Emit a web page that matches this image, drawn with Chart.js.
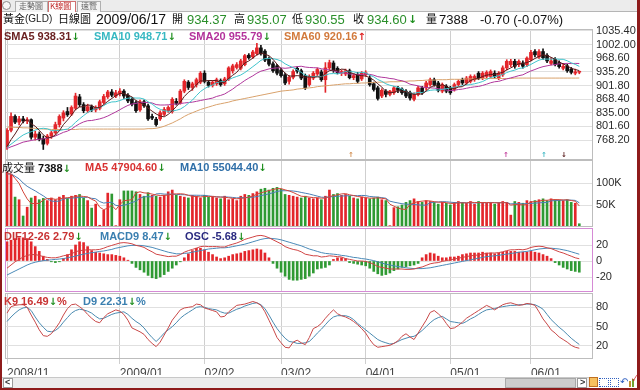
<!DOCTYPE html>
<html><head><meta charset="utf-8">
<script src="https://cdn.jsdelivr.net/npm/chart.js@4.4.1/dist/chart.umd.min.js"></script>
<style>
html,body{margin:0;padding:0;background:#fff;}
#wrap{position:relative;width:640px;height:390px;overflow:hidden;background:#fff;font-family:"Liberation Sans","Noto Sans CJK TC",Arial,sans-serif;}
canvas{position:absolute;left:0;top:0;}
.t{position:absolute;white-space:nowrap;line-height:1;z-index:5;}
.cj{font-family:"Noto Sans CJK TC",sans-serif;}
.lg{font-size:11px;font-weight:bold;}
.dn{color:#1f8f1f;font-family:"DejaVu Sans",sans-serif;font-weight:bold;font-size:10px;}
.up{color:#e02020;font-family:"DejaVu Sans",sans-serif;font-weight:bold;font-size:10px;}
.g{color:#2a8f2a;}
.mk{position:absolute;z-index:5;font-family:"DejaVu Sans",sans-serif;font-size:7px;line-height:1;font-weight:bold;}
.box{position:absolute;z-index:6;box-sizing:border-box;}
</style></head><body><div id="wrap">
<canvas id="c1" width="640" height="390"></canvas>
<canvas id="c2" width="640" height="390"></canvas>
<canvas id="c3" width="640" height="390"></canvas>
<canvas id="c4" width="640" height="390"></canvas>

<!-- tab strip -->
<div class="box" style="left:0;top:0;width:640px;height:12px;background:#ececec;border-bottom:1px solid #b5b5b5;"></div>
<div class="box" style="left:2px;top:1px;width:9px;height:9px;border:1px solid #8a8a8a;border-radius:50%;background:#f8f8f8;"></div>
<div class="box" style="left:15px;top:1px;width:33px;height:11px;border:1px solid #b0b0b0;border-bottom:none;background:#f4f4f4;"></div>
<div class="box" style="left:48px;top:1px;width:28px;height:11px;border:1px solid #d07070;border-bottom:none;background:#fff;"></div>
<div class="box" style="left:77px;top:1px;width:24px;height:11px;border:1px solid #b0b0b0;border-bottom:none;background:#f4f4f4;"></div>
<span class="t cj" style="left:19px;top:2px;font-size:8px;color:#666;z-index:7">走勢圖</span>
<span class="t cj" style="left:50px;top:2px;font-size:8px;color:#c02828;z-index:7">K線圖</span>
<span class="t cj" style="left:81px;top:2px;font-size:8px;color:#666;z-index:7">速覽</span>

<!-- title -->
<span class="t cj" style="left:3px;top:13px;font-size:11px;color:#111">黃金</span>
<span class="t" style="left:25px;top:14px;font-size:10px;color:#222">(GLD)</span>
<span class="t cj" style="left:58px;top:13px;font-size:11px;color:#111">日線圖</span>
<span class="t" style="left:96px;top:12px;font-size:14px;color:#111">2009/06/17</span>
<span class="t cj" style="left:172px;top:13px;font-size:11px;color:#111">開</span>
<span class="t g" style="left:187px;top:13px;font-size:13px">934.37</span>
<span class="t cj" style="left:234px;top:13px;font-size:11px;color:#111">高</span>
<span class="t g" style="left:247px;top:13px;font-size:13px">935.07</span>
<span class="t cj" style="left:292px;top:13px;font-size:11px;color:#111">低</span>
<span class="t g" style="left:305px;top:13px;font-size:13px">930.55</span>
<span class="t cj" style="left:353px;top:13px;font-size:11px;color:#111">收</span>
<span class="t g" style="left:367px;top:13px;font-size:13px">934.60</span>
<span class="t dn" style="left:408px;top:14px;font-size:11px">↓</span>
<span class="t cj" style="left:426px;top:13px;font-size:11px;color:#111">量</span>
<span class="t" style="left:439px;top:13px;font-size:13px;color:#111">7388</span>
<span class="t" style="left:480px;top:13px;font-size:13px;color:#111">-0.70 (-0.07%)</span>

<!-- main legend -->
<span class="t lg" style="left:4px;top:31px;color:#6b2222">SMA5 938.31<span class="dn">↓</span></span>
<span class="t lg" style="left:94px;top:31px;color:#37b8c2">SMA10 948.71<span class="dn">↓</span></span>
<span class="t lg" style="left:189px;top:31px;color:#b3329b">SMA20 955.79<span class="dn">↓</span></span>
<span class="t lg" style="left:284px;top:31px;color:#d27a3c">SMA60 920.16<span class="up">↑</span></span>
<!-- signal markers -->
<span class="mk" style="left:348px;top:152px;color:#d08a4a">↑</span>
<span class="mk" style="left:503px;top:152px;color:#c03a9a">↑</span>
<span class="mk" style="left:541px;top:152px;color:#3fb8c4">↑</span>
<span class="mk" style="left:561px;top:152px;color:#5a1c1c">↓</span>
<!-- volume legend -->
<span class="t lg" style="left:2px;top:162px;color:#111"><span class="cj" style="font-weight:normal">成交量</span> 7388<span class="dn">↓</span></span>
<span class="t lg" style="left:85px;top:162px;color:#d83232">MA5 47904.60<span class="dn">↓</span></span>
<span class="t lg" style="left:180px;top:162px;color:#2f6fa8">MA10 55044.40<span class="dn">↓</span></span>
<!-- macd legend -->
<span class="t lg" style="left:4px;top:231px;color:#c83232">DIF12-26 2.79<span class="dn">↓</span></span>
<span class="t lg" style="left:100px;top:231px;color:#3a7fb0">MACD9 8.47<span class="dn">↓</span></span>
<span class="t lg" style="left:185px;top:231px;color:#2a2a80">OSC -5.68<span class="dn">↓</span></span>
<!-- kd legend -->
<span class="t lg" style="left:4px;top:296px;color:#c83232">K9 16.49<span class="dn">↓</span>%</span>
<span class="t lg" style="left:83px;top:296px;color:#3a7fb0">D9 22.31<span class="dn">↓</span>%</span>

<!-- scrollbar -->
<div class="box" style="left:2px;top:377px;width:588px;height:11px;background:#ececec;border-top:1px solid #c8c8c8;"></div>
<div class="box" style="left:3px;top:378px;width:10px;height:10px;background:#fff;border:1px solid #9a9a9a;"></div>
<span class="t" style="left:5px;top:378px;font-size:9px;font-weight:bold;color:#333;z-index:7">&lt;</span>
<div class="box" style="left:505px;top:378px;width:71px;height:10px;background:#cdcdcd;border:1px solid #a8a8a8;"></div>
<div class="box" style="left:577px;top:378px;width:10px;height:10px;background:#fff;border:1px solid #9a9a9a;"></div>
<span class="t" style="left:580px;top:378px;font-size:9px;font-weight:bold;color:#333;z-index:7">&gt;</span>
<div class="box" style="left:589px;top:377px;width:9px;height:10px;background:#f6c060;border:1px solid #c07020;"></div>
<div class="box" style="left:599px;top:378px;width:10px;height:9px;border:1px dotted #3060c0;"></div>
<div class="box" style="left:610px;top:378px;width:9px;height:9px;border:1px dotted #3060c0;"></div>
<span class="t" style="left:620px;top:377px;font-size:10px;color:#3060c0;z-index:7">↶</span>
<div class="box" style="left:629px;top:381px;width:2px;height:6px;background:#c09030;"></div>
<div class="box" style="left:632px;top:379px;width:2px;height:8px;background:#70a030;"></div>
<span class="t" style="left:632px;top:375px;font-size:8px;color:#d02020;z-index:7">✓</span>

<!-- outer frame -->
<div class="box" style="left:0;top:0;width:2px;height:390px;background:#8e1b1b;"></div>
<div class="box" style="left:637px;top:0;width:3px;height:390px;background:#8e1b1b;"></div>
<div class="box" style="left:0;top:388px;width:640px;height:2px;background:#8e1b1b;"></div>
</div>
<script>
// ---------------- data ----------------
const tickIndex  = [0, 28, 49, 68, 89, 110, 130];
const tickLabels = ['2008/11', '2009/01', '02/02', '03/02', '04/01', '05/01', '06/01'];
const priceTicks = [768.2, 801.6, 835.0, 868.4, 901.8, 935.2, 968.6, 1002.0, 1035.4];
const volTicks = [50, 100];          // thousands
const macdTicks = [-20, 0, 20];
const kdTicks = [20, 50, 80];

const open = [752,792,826,812,820,815,818,775,783,772,760,778,786,806,822,838,832,846,874,855,
840,850,842,846,860,874,886,876,882,888,878,868,860,842,862,852,826,819,820,831,
840,838,863,860,888,910,897,904,910,932,910,902,906,914,906,918,938,946,944,953,
976,972,980,994,986,968,955,950,940,928,912,922,944,938,926,904,920,930,935,916,
945,957,944,932,930,938,921,929,918,928,920,906,896,876,888,880,884,896,893,888,
884,868,880,896,896,904,916,908,888,900,896,892,904,916,908,912,916,932,920,924,
924,932,920,928,945,953,961,953,957,953,965,985,972,985,976,956,966,958,944,950,
942,932,934.37];
const high = [796,835,830,826,826,823,820,790,788,778,782,790,812,830,840,848,852,883,880,860,
856,854,852,866,880,890,892,890,894,892,882,872,864,866,866,856,832,824,840,848,
852,872,870,892,916,914,910,920,936,938,914,914,920,918,922,948,954,958,966,978,
980,988,1005,1000,990,972,960,954,944,932,926,940,948,942,930,928,936,945,940,958,
964,962,948,940,942,942,930,934,936,938,926,910,900,894,892,890,900,900,896,892,
888,884,900,900,912,920,920,912,908,904,900,908,916,920,924,928,928,936,936,938,
940,938,936,950,965,966,966,965,962,972,988,990,990,992,980,970,970,962,956,954,
946,942,935.07];
const low = [745,788,808,805,810,808,770,768,766,745,756,772,782,800,815,826,828,842,850,835,
835,838,837,842,856,870,874,872,876,870,860,852,836,838,848,816,818,802,816,828,
836,834,854,856,884,892,890,898,906,908,898,898,902,900,902,914,932,942,940,950,
966,968,976,976,960,950,934,928,922,904,905,918,932,916,892,900,916,926,912,885,
940,934,930,926,926,918,916,908,914,924,900,888,866,872,874,876,880,884,880,872,
866,864,876,880,890,900,900,886,884,884,880,888,900,904,904,908,912,916,916,920,
920,920,916,924,940,948,944,948,944,948,962,972,968,966,958,952,950,944,940,934,
930,928,930.55];
const close = [792,826,812,820,815,818,775,783,770,758,778,786,806,826,835,830,848,876,855,840,
850,842,848,862,875,886,878,884,888,876,864,856,840,862,852,820,822,806,835,843,
848,868,858,888,912,897,906,916,932,912,902,910,916,904,918,945,950,953,962,975,
970,984,994,980,964,954,938,932,926,908,922,936,937,920,896,924,932,941,916,945,
958,938,933,936,938,921,926,912,932,933,904,892,870,890,880,888,896,890,884,876,
871,880,896,884,908,916,904,890,904,888,884,904,912,908,920,924,924,920,932,934,
936,924,932,945,961,961,949,961,949,969,983,977,985,970,962,962,953,948,949,938,
934,935.3,934.6];

const sma5 = [752,769,783,799,813,818,808,802,792,781,773,775,780,791,806,817,829,843,849,850,
854,853,847,848,855,863,870,877,882,882,878,874,865,860,855,846,839,832,827,825,
831,840,850,861,875,885,892,904,913,913,914,914,914,909,910,919,927,934,946,957,
962,969,977,981,978,975,966,954,943,932,925,925,926,925,922,923,922,923,922,932,
938,940,938,942,941,933,931,927,926,925,921,915,906,898,887,884,885,889,888,887,
883,880,881,881,888,897,902,900,904,900,894,894,898,899,906,914,918,919,924,927,
929,929,932,934,940,945,950,955,956,958,962,968,973,977,975,971,966,959,955,950,
944,941,938.31];
const sma10 = [750,758,765.5,773.5,780.5,785,788.5,792.5,795.5,797,795.5,791.5,791,791.5,793.5,795,802,811.5,820,828,
835.5,841,845,848.5,852.5,858.5,861.5,862,865,868.5,870.5,872,871,871,868.5,862,856.5,848.5,843.5,840,
838.5,839.5,841,844,850,858,866,877,887,894,899.5,903,909,911,911.5,916.5,920.5,924,927.5,933.5,
940.5,948,955.5,963.5,967.5,968.5,967.5,965.5,962,955,950,945.5,940,934,927,924,923.5,924.5,923.5,927,
930.5,931,930.5,932,936.5,935.5,935.5,932.5,934,933,927,923,916.5,912,906,902.5,900,897.5,893,887,
883.5,882.5,885,884.5,887.5,890,891,890.5,892.5,894,895.5,898,899,901.5,903,904,906,908.5,911.5,916.5,
921.5,923.5,925.5,929,933.5,937,939.5,943.5,945,949,953.5,959,964,966.5,966.5,966.5,967,966,966,962.5,
957.5,953.5,948.71];
const sma20 = [747.5,751.5,755,759,763,765,767,769,770,771,773,775,778,782.5,787,790,795,802,808,812.5,
815.5,816,818,820,823,827,832,837,842.5,848,853,856.5,858,860,860.5,860,859,855,854,854,
854.5,856,856,857.5,859,860,861,863,865,867,869,871,875,877.5,881,887,893,900.5,907,914,
920,925.5,932,937,939.5,942.5,944,945,945,944,945,947,948,949,947,946,945.5,945,943,941,
940,938,935,933,932,930,929.5,928.5,929,930,929,927,923.5,922,921,919,918,915,913.5,910,
905,903,901,898,897,896,895.5,894,893,890.5,889.5,890,892,893,895,897,898.5,899.5,902,905,
908.5,911,912,915,918,920.5,923,926,928,933,937.5,941,945,948,950,952,953,955,955.5,956,
955.5,956,955.79];
const sma60 = [800,800,799,799,798,798,797,797,796,795,795,794,794,794,794,794,794,794,795,795,
795,795,795,795,795,795,795,795,795,795,795,795,795,795,795,796,796,797,799,802,
806,810,815,820,826,831,835,839,843,846,849,852,855,857,859,861,864,866,868,870,
872,874,876,878,880,882,884,886,888,889,890,891,893,894,895,896,897,899,900,901,
902,903,904,905,906,906,907,907,908,908,909,909,910,910,910,911,911,911,912,912,
913,913,914,914,915,915,915,916,916,916,917,917,917,917,918,918,918,918,919,919,
919,919,919,919,919,919,920,920,920,920,920,920,920,920,920,920,920,920,920,920,
920,920,920.16];

// volume in thousands
const volume = [125,120,68,62,25,45,66,70,62,65,60,66,62,68,72,65,70,72,74,66,
60,43,52,4,38,77,75,3,62,82,82,82,80,74,70,78,72,70,68,72,
80,84,72,70,68,66,72,70,66,72,68,70,66,64,70,62,64,60,70,74,
72,76,80,86,88,84,88,90,86,74,72,70,68,66,70,66,64,66,62,70,
84,74,76,72,74,70,66,64,68,66,64,66,68,62,60,3,44,46,50,56,
60,64,58,56,60,58,56,52,56,54,50,56,58,56,54,58,52,58,56,54,
56,52,56,58,56,27,58,56,54,60,58,60,62,64,60,64,62,61,60,62,
56,54,7.388];
const volMa5 = [121,121,110.6,99,80,64,53.2,53.6,53.6,61.6,64.6,64.6,63,64.2,65.6,66.6,67.4,69.4,70.6,69.4,
68.4,63,59,45,39.4,42.8,49.2,39.4,51,59.8,60.8,62.2,77.6,80,77.6,76.8,74.8,72.8,71.6,72,
72.4,74.8,75.2,75.6,74.8,72,69.6,69.2,68.4,69.2,69.6,69.2,68.4,68,67.6,66.4,65.2,64,65.2,66,
68,70.4,74.4,77.6,80.4,82.8,85.2,87.2,87.2,84.4,82,78.4,74,70,69.2,68,66.8,66.4,65.6,65.6,
69.2,71.2,73.2,75.2,76,73.2,71.6,69.2,68.4,66.8,65.6,65.6,66.4,65.2,64,51.8,47.4,43,40.6,39.8,
51.2,55.2,57.6,58.8,59.6,59.2,57.6,56.4,56.4,55.2,53.6,53.6,54.8,54.8,54.8,56.4,55.6,55.6,55.6,55.6,
55.2,55.2,54.8,55.2,55.6,49.8,51,51,50.2,51,57.2,57.6,58.8,60.8,60.8,62,62.4,62.2,61.4,61.8,
60.2,58.6,47.9];
const volMa10 = [120.5,120.5,115.3,109.5,100,92.5,87.1,82.1,76.3,70.8,64.3,58.9,58.3,58.9,63.6,65.6,66,66.2,67.4,67.5,
67.5,65.2,64.2,57.8,54.4,55.6,56.1,49.2,48,49.6,51.8,55.7,58.5,65.5,68.7,68.8,68.5,75.2,75.8,74.8,
74.6,74.8,74,73.6,73.4,72.2,72.2,72.2,72,72,70.8,69.4,68.8,68.2,68.4,68,67.2,66.2,66.6,66.8,
67.2,67.8,69.2,71.4,73.2,75.4,77.8,80.8,82.4,82.4,82.4,81.8,80.6,78.6,76.8,75,72.6,70.2,67.8,67.4,
68.6,69,69.8,70.4,70.8,71.2,71.4,71.2,71.8,71.4,69.4,68.6,67.8,66.8,65.4,58.7,56.5,54.7,52.9,51.9,
51.5,51.3,50.3,49.7,49.7,55.2,56.4,57,57.6,57.4,56.4,55.6,55.6,55.6,55,55,54.6,55.2,55.2,55.2,
55.8,55.4,55.2,55.4,55.6,52.5,53.1,52.9,52.7,53.3,53.5,54.3,54.9,55.5,55.9,59.6,60,60.5,61.1,61.3,
61.1,60.5,55.04];

const dif = [-9,-5,-1,2,5,7,8,8,7,5.5,4.5,4,4,5,6.5,7.5,9,11.5,13,13.5,
14,14,14,14.5,16,18,19.5,21,22.5,23,22.5,21.5,19.5,18.5,17,14,11.5,8.5,7.5,6.5,
5.5,6,6,8,11,13,14.5,16,18,18.5,18,18,18,17.5,17.5,19.5,21,22.5,24.5,27,
28.5,30,31.5,32,31,29,26.5,24,21.5,18,16,14.5,13.5,11.5,8.5,7.5,6.5,6.5,5,5.5,
6.5,6,5.5,5,3,2,1,0,0,-0.5,-2,-4,-7,-8,-9,-10,-10,-10,-10,-10.5,
-10.5,-10,-8.5,-7.5,-5.5,-3.5,-2.5,-2,-0.5,0.5,1.5,2.5,3.5,4.5,5.5,6.5,7,7.5,8.5,9.5,
10,10,10.5,11.5,13,14,14,14.5,14,15,17,18,18.5,18,16.5,15.5,13.5,11.5,10,8,
6,4,2.79];
const macd9 = [-17.5,-15,-12.5,-10,-7.5,-5,-3,-1.5,-0.5,0.5,1,1.5,2,2.5,3,4,5,6,7.5,8.5,
9.5,10.5,11,12,12.5,13.5,14.5,16,17,18,19,19.5,19.5,19.5,19,18,17,15.5,14,12.5,
11,10,9,9,9.5,10,11,12,13,14,15,15.5,16,16.5,16.5,17,18,19,20,21,
22.5,24,25.5,27,28,28.5,28,27.5,26.5,25,23.5,22,20.5,19,17,15,13.5,12,10.5,9.5,
9,8.5,8,7,6.5,5.5,4.5,4,3,2.5,1.5,0.5,-1,-2.5,-4,-5,-6,-7,-7.5,-8.5,
-9,-9.5,-9.5,-9.5,-9,-8.5,-7.5,-6.5,-5.5,-4.5,-3.5,-2.5,-1.5,-0.5,0.5,1.5,2.5,3.5,4.5,5.5,
6,6.5,7,8,8.5,9.5,10,11,11.5,12,13,14,15,15.5,16,16,15.5,15,14,13,
11.5,10,8.47];
const osc = [24,26,28,29,29,28,24,18,12,6,2,-1,-2,-1,3,8,14,20,24,23,
18,13,11,10,9,8,8,7,6,4,1,-3,-8,-11,-14,-18,-21,-22,-20,-17,
-13,-9,-5,-1,4,9,13,16,16,14,11,8,5,3,4,6,8,9,10,12,
13,14,15,14,10,4,-3,-9,-14,-19,-23,-24,-24,-23,-22,-19,-15,-10,-9,-8,
-5,2,4,4,3,-2,-3,-4,-5,-6,-9,-13,-16,-18,-17,-15,-12,-10,-8,-7,
-6,-5,-3,4,8,10,9,6,4,4,5,5,6,8,9,10,10,10,11,10,
10,9,10,11,12,12,12,11,11,11,12,11,10,8,6,3,-2,-5,-8,-10,
-12,-13,-14];

const k9 = [71,81,83,84,84,80,68,57,45,36,35,39,47,56,68,78,84,85,81,76,
69,63,58,56,64,70,73,76,74,69,60,48,45,42,38,30,24,19,26,37,
48,60,68,76,79,80,81,85,84,79,77,75,73,65,66,73,78,83,84,85,
87,89,87,83,73,60,47,33,25,18,17,26,29,25,22,33,47,50,55,63,
70,76,70,67,65,62,58,53,47,40,30,22,18,19,20,21,24,28,35,39,
34,30,40,50,60,72,75,70,64,55,47,48,52,57,63,67,71,75,79,83,
80,76,80,84,86,87,85,83,84,86,85,83,73,62,54,45,40,34,30,26,
21,18,16.49];
const d9 = [58,65,71,76,79,80,75,65,56,49,43,42,44,49,57,64,71,75,77,76,
74,71,66,62,63,66,69,71,72,73,69,63,58,54,48,40,33,27,33,40,
45,50,56,63,68,72,76,80,81,80,78,77,76,73,71,71,74,77,79,82,
84,86,87,84,78,68,57,47,39,32,27,26,24,24,25,27,33,40,46,53,
60,65,67,67,67,65,61,55,50,45,40,35,30,27,25,23,24,27,30,32,
34,35,39,44,50,56,61,64,66,62,58,57,56,55,58,62,65,69,73,76,
77,78,80,81,82,83,83,84,84,85,85,84,81,77,69,61,55,49,44,38,
32,27,22.31];

// ---------------- chart ----------------
const family = '"Liberation Sans", Arial, sans-serif';
Chart.defaults.font.family = family;
const idx = close.map((_, i) => i);
const xy = arr => arr.map((v, i) => ({x: i, y: v}));
const RED = '#e3262b', BLACK = '#111111', GREEN = '#2f9a33';
const candleColor = idx.map(i => close[i] >= open[i] ? RED : BLACK);
const volColor = idx.map(i => (i === 0 || close[i] >= close[i - 1]) ? RED : GREEN);
const oscColor = osc.map(v => v >= 0 ? RED : GREEN);

const framePlugin = {
  id: 'frame',
  afterDraw(chart, args, opts) {
    const a = chart.chartArea, ctx = chart.ctx;
    ctx.save();
    ctx.strokeStyle = opts.color || '#bdbdbd';
    ctx.lineWidth = 1;
    ctx.strokeRect(a.left + 0.5, a.top + 0.5, a.right - a.left - 1, a.bottom - a.top - 1);
    ctx.restore();
  }
};

function xAxis(showLabels) {
  return {
    type: 'linear', min: -0.5, max: 145.4, bounds: 'data', offset: false,
    afterBuildTicks(s) { s.ticks = tickIndex.map(v => ({value: v})); },
    afterFit(s) { s.height = showLabels ? 16 : 0; s.paddingLeft = 0; s.paddingRight = 0; },
    ticks: {display: showLabels, align: 'start', autoSkip: false, maxRotation: 0, minRotation: 0, padding: 2,
      color: '#444', font: {size: 12, family},
      callback: v => tickLabels[tickIndex.indexOf(v)]},
    grid: {color: '#cfcfcf', drawTicks: showLabels, tickLength: 5, tickColor: '#cfcfcf', offset: false},
    border: {display: false}
  };
}
function yAxis(min, max, ticks, fmt) {
  return {
    position: 'right', min, max, bounds: 'data', beginAtZero: false,
    afterBuildTicks(s) { s.ticks = ticks.map(v => ({value: v})); },
    afterFit(s) { s.width = 47; s.paddingTop = 0; s.paddingBottom = 0; },
    ticks: {padding: 3, color: '#2a2a2a', font: {size: 11, family}, autoSkip: false, callback: fmt},
    grid: {color: '#e0e0e0', drawTicks: false},
    border: {display: false}
  };
}
function line(data, color) {
  return {type: 'line', data: xy(data), borderColor: color, borderWidth: 1, pointRadius: 0, tension: 0, fill: false};
}
function make(id, top, bottomPad, datasets, y, frameColor, showX) {
  return new Chart(document.getElementById(id), {
    type: 'bar',
    data: {datasets},
    options: {
      responsive: false, animation: false, devicePixelRatio: 1, events: [],
      layout: {padding: {left: 5, right: 0, top: top, bottom: bottomPad}},
      plugins: {legend: {display: false}, tooltip: {enabled: false}, frame: {color: frameColor}},
      scales: {x: xAxis(showX), y}
    },
    plugins: [framePlugin]
  });
}

// price panel
make('c1', 29, 390 - 160, [
  line(sma5, '#5a1c1c'),
  line(sma10, '#3fc4cc'),
  line(sma20, '#b0379c'),
  line(sma60, '#d9a26c'),
  {type: 'bar', data: idx.map(i => ({x: i, y: [low[i], high[i]]})), backgroundColor: candleColor, barThickness: 1, grouped: false},
  {type: 'bar', data: idx.map(i => ({x: i, y: [open[i], close[i]]})), backgroundColor: candleColor, barThickness: 3, minBarLength: 1, grouped: false}
], yAxis(719.2, 1040.3, priceTicks, v => v.toFixed(2)), '#bdbdbd', false);

// volume panel
make('c2', 160, 390 - 227, [
  line(volMa5, '#d2463a'),
  line(volMa10, '#4a7fb5'),
  {type: 'bar', data: xy(volume), backgroundColor: volColor, barThickness: 2, grouped: false}
], yAxis(0, 152.3, volTicks, v => v + 'K'), '#bdbdbd', false);

// MACD panel
make('c3', 228, 390 - 292, [
  line(dif, '#d04444'),
  line(macd9, '#4a8ab8'),
  {type: 'bar', data: xy(osc), backgroundColor: oscColor, barThickness: 2, grouped: false}
], yAxis(-38.75, 41.25, macdTicks, v => String(v)), '#d58ad5', false);

// KD panel
make('c4', 293, 390 - 359 - 16, [
  line(k9, '#c84848'),
  line(d9, '#4a8ab0')
], yAxis(-0.2, 102.2, kdTicks, v => String(v)), '#bdbdbd', true);
</script>
</body></html>
